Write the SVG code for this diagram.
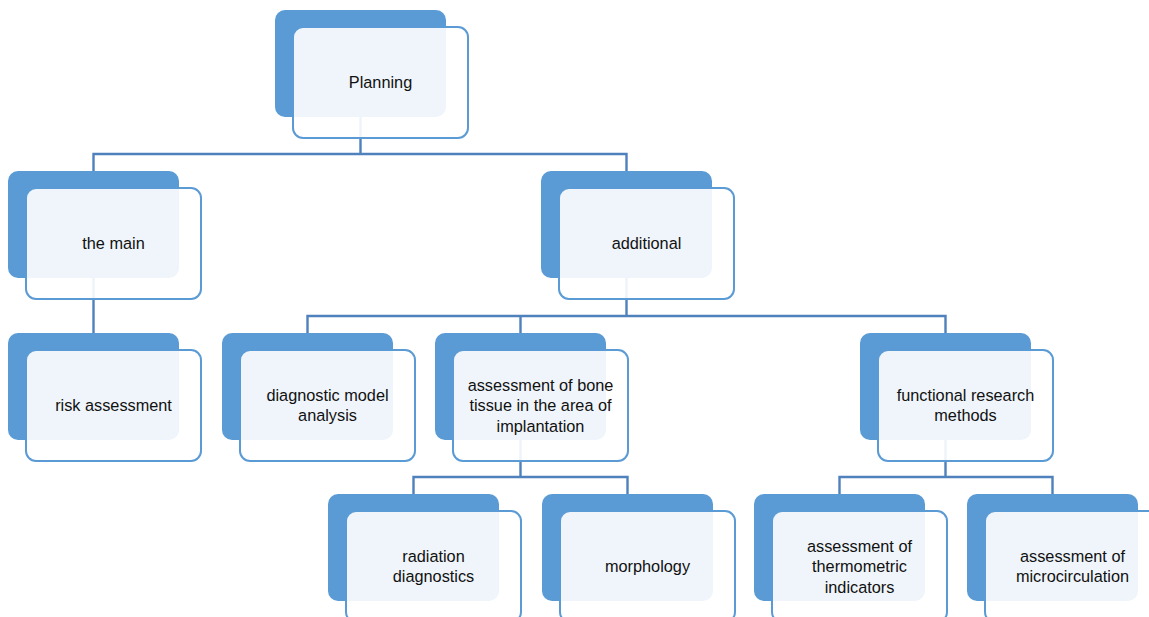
<svg xmlns="http://www.w3.org/2000/svg" width="1149" height="617" viewBox="0 0 1149 617">
<style>
.bg{fill:#5b9bd5}
.fg{fill:#ffffff;fill-opacity:0.9;stroke:#5b9bd5;stroke-width:2}
.lbl{font-family:"Liberation Sans",Arial,sans-serif;font-size:16.3px;fill:#111;text-anchor:middle}
.conn{fill:none;stroke:#4f81bd;stroke-width:2.4}
</style>
<defs>
<g id="box">
<rect class="bg" x="0" y="0" width="171" height="107" rx="10"/>
<rect class="fg" x="18" y="17" width="175" height="111" rx="10"/>
</g>
</defs>
<rect width="1149" height="617" fill="#ffffff"/>
<g id="connectors">
<path class="conn" d="M360.5 117V154M93.5 171V154H626.5V171"/>
<path class="conn" d="M93.5 278V333"/>
<path class="conn" d="M626.5 278V316M307.5 333V316H945.5V333M520.5 316V333"/>
<path class="conn" d="M520.5 440V477M413.5 494V477H627.5V494"/>
<path class="conn" d="M945.5 440V477M839.5 494V477H1052.5V494"/>
</g>
<g id="planning" transform="translate(275,10)"><use href="#box"/><text class="lbl" x="105.5" y="78">Planning</text></g>
<g id="the-main" transform="translate(8,171)"><use href="#box"/><text class="lbl" x="105.5" y="78">the main</text></g>
<g id="additional" transform="translate(541,171)"><use href="#box"/><text class="lbl" x="105.5" y="78">additional</text></g>
<g id="risk-assessment" transform="translate(8,333)"><use href="#box"/><text class="lbl" x="105.5" y="78">risk assessment</text></g>
<g id="diagnostic-model" transform="translate(222,333)"><use href="#box"/><text class="lbl" x="105.5" y="68">diagnostic model</text><text class="lbl" x="105.5" y="88">analysis</text></g>
<g id="bone-tissue" transform="translate(435,333)"><use href="#box"/><text class="lbl" x="105.5" y="57.5">assessment of bone</text><text class="lbl" x="105.5" y="78">tissue in the area of</text><text class="lbl" x="105.5" y="98.5">implantation</text></g>
<g id="functional" transform="translate(860,333)"><use href="#box"/><text class="lbl" x="105.5" y="68">functional research</text><text class="lbl" x="105.5" y="88">methods</text></g>
<g id="radiation" transform="translate(328,494)"><use href="#box"/><text class="lbl" x="105.5" y="68">radiation</text><text class="lbl" x="105.5" y="88">diagnostics</text></g>
<g id="morphology" transform="translate(542,494)"><use href="#box"/><text class="lbl" x="105.5" y="78">morphology</text></g>
<g id="thermometric" transform="translate(754,494)"><use href="#box"/><text class="lbl" x="105.5" y="57.5">assessment of</text><text class="lbl" x="105.5" y="78">thermometric</text><text class="lbl" x="105.5" y="98.5">indicators</text></g>
<g id="microcirculation" transform="translate(967,494)"><use href="#box"/><text class="lbl" x="105.5" y="68">assessment of</text><text class="lbl" x="105.5" y="88">microcirculation</text></g>
</svg>
